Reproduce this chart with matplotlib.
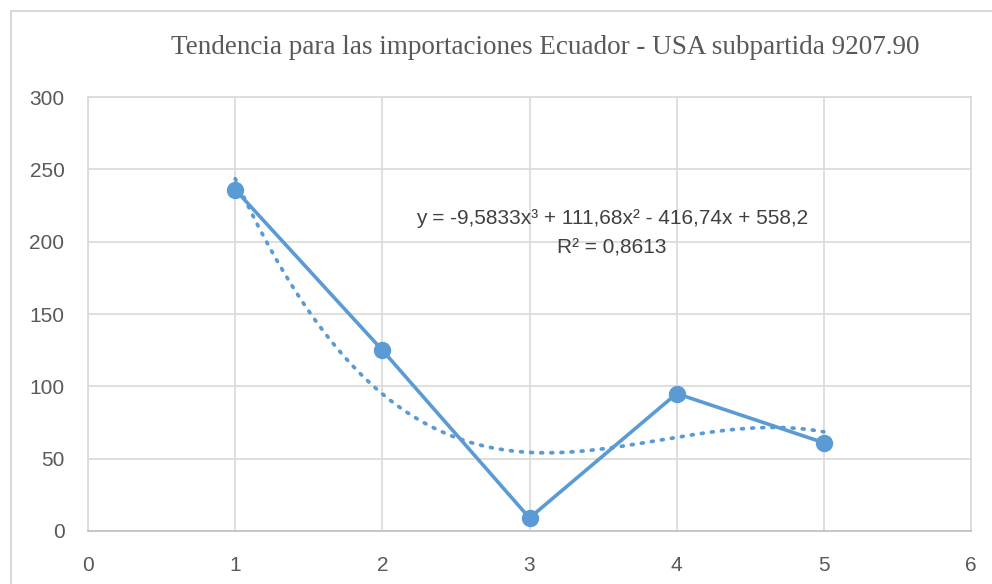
import numpy as np
import matplotlib
matplotlib.use('Agg')
import matplotlib.pyplot as plt
from matplotlib.patches import Rectangle

# datos
periodos = [1, 2, 3, 4, 5]
importaciones = [236, 125, 9, 95, 61]
titulo = 'Tendencia para las importaciones Ecuador - USA subpartida 9207.90'
ecuacion = 'y = -9,5833x³ + 111,68x² - 416,74x + 558,2'
r2 = 'R² = 0,8613'

azul = '#5B9BD5'
gris = '#595959'

plt.rcParams['font.family'] = ['Liberation Sans', 'DejaVu Sans']

fig = plt.figure(figsize=(9.92, 5.84), dpi=100)
fig.patches.append(Rectangle((11/992, -0.1), 1.1, (584-11)/584 + 0.1,
                             transform=fig.transFigure, fill=False,
                             edgecolor='#D9D9D9', linewidth=1.5))
ax = fig.add_axes([88/992, 53/584, 883/992, 434/584])

# linea de tendencia polinomica grado 3
coef = np.polyfit(periodos, importaciones, 3)
xs = np.linspace(1, 5, 200)
ax.plot(xs, np.polyval(coef, xs), linestyle=(0, (0.5, 2.2)), color=azul,
        linewidth=2.7, dash_capstyle='round', zorder=2)

ax.plot(periodos, importaciones, color=azul, linewidth=2.6, marker='o',
        markersize=11.5, zorder=3)

ax.set_xlim(0, 6)
ax.set_ylim(0, 300)
ax.set_xticks(range(0, 7))
ax.set_yticks(range(0, 301, 50))
ax.grid(True, color='#D9D9D9', linewidth=1.2)
ax.set_axisbelow(True)
for s in ax.spines.values():
    s.set_color('#D9D9D9')
    s.set_linewidth(1.2)
ax.spines['bottom'].set_color('#BFBFBF')
ax.tick_params(length=0, labelsize=15, labelcolor=gris)
ax.tick_params(axis='x', pad=18)
ax.tick_params(axis='y', pad=17)

fig.text(545/992, 1 - 48/584, titulo, family='Liberation Serif', fontsize=19.5,
         color=gris, ha='center', va='center')
fig.text(612/992, 1 - 218/584, ecuacion, fontsize=15, color='#404040',
         ha='center', va='center')
fig.text(612/992, 1 - 248/584, r2, fontsize=15, color='#404040',
         ha='center', va='center')

fig.savefig('out.png', dpi=100)
